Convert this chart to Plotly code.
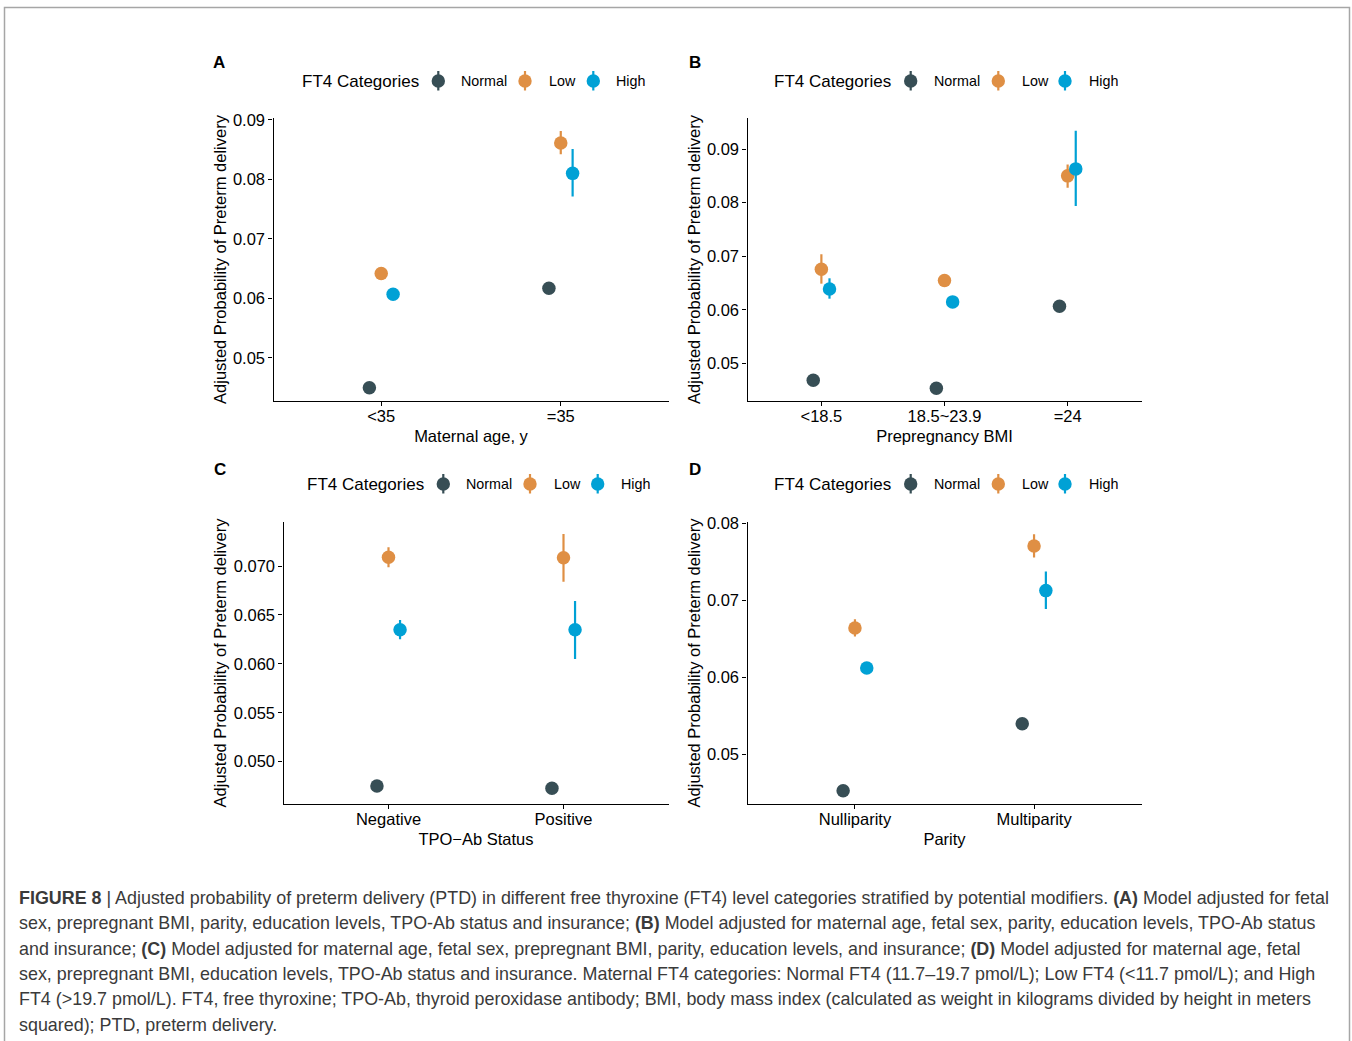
import plotly.graph_objects as go

W, H = 1352, 1041

# ---------------- data ----------------
groups = ["Normal", "Low", "High"]
group_colors = ["#374E55", "#DF8F44", "#00A1D5"]
dodge = [-0.066, 0.0, 0.066]

# Panel A: maternal age
a_categories = ["<35", "=35"]
a_normal = [0.0450, 0.0617]
a_normal_lo = [0.0445, 0.0610]
a_normal_hi = [0.0455, 0.0624]
a_low = [0.0642, 0.0861]
a_low_lo = [0.0636, 0.0842]
a_low_hi = [0.0648, 0.0881]
a_high = [0.0607, 0.0810]
a_high_lo = [0.0601, 0.0771]
a_high_hi = [0.0613, 0.0851]

# Panel B: prepregnancy BMI
b_categories = ["<18.5", "18.5~23.9", "=24"]
b_normal = [0.0469, 0.0454, 0.0607]
b_normal_lo = [0.0463, 0.0449, 0.0599]
b_normal_hi = [0.0475, 0.0459, 0.0615]
b_low = [0.0676, 0.0655, 0.0850]
b_low_lo = [0.0649, 0.0646, 0.0828]
b_low_hi = [0.0704, 0.0664, 0.0871]
b_high = [0.0639, 0.0615, 0.0863]
b_high_lo = [0.0621, 0.0608, 0.0794]
b_high_hi = [0.0659, 0.0622, 0.0934]

# Panel C: TPO-Ab status
c_categories = ["Negative", "Positive"]
c_normal = [0.04752, 0.04728]
c_normal_lo = [0.04720, 0.04680]
c_normal_hi = [0.04785, 0.04775]
c_low = [0.07089, 0.07085]
c_low_lo = [0.06987, 0.06840]
c_low_hi = [0.07191, 0.07327]
c_high = [0.06349, 0.06349]
c_high_lo = [0.06251, 0.06049]
c_high_hi = [0.06448, 0.06642]

# Panel D: parity
d_categories = ["Nulliparity", "Multiparity"]
d_normal = [0.04523, 0.05394]
d_normal_lo = [0.04480, 0.05330]
d_normal_hi = [0.04570, 0.05460]
d_low = [0.06639, 0.07705]
d_low_lo = [0.06526, 0.07553]
d_low_hi = [0.06752, 0.07857]
d_high = [0.06118, 0.07124]
d_high_lo = [0.06085, 0.06886]
d_high_hi = [0.06151, 0.07371]

caption_lines = [
    "<b>FIGURE 8</b> | Adjusted probability of preterm delivery (PTD) in different free thyroxine (FT4) level categories stratified by potential modifiers. <b>(A)</b> Model adjusted for fetal",
    "sex, prepregnant BMI, parity, education levels, TPO-Ab status and insurance; <b>(B)</b> Model adjusted for maternal age, fetal sex, parity, education levels, TPO-Ab status",
    "and insurance; <b>(C)</b> Model adjusted for maternal age, fetal sex, prepregnant BMI, parity, education levels, and insurance; <b>(D)</b> Model adjusted for maternal age, fetal",
    "sex, prepregnant BMI, education levels, TPO-Ab status and insurance. Maternal FT4 categories: Normal FT4 (11.7–19.7 pmol/L); Low FT4 (&lt;11.7 pmol/L); and High",
    "FT4 (&gt;19.7 pmol/L). FT4, free thyroxine; TPO-Ab, thyroid peroxidase antibody; BMI, body mass index (calculated as weight in kilograms divided by height in meters",
    "squared); PTD, preterm delivery.",
]

# ---------------- layout helpers ----------------
def px(x):
    return x / W

def py(y):
    return 1 - y / H

FONT = "Liberation Sans, Arial, sans-serif"

panels = [
    dict(letter="A", cats=a_categories, title="Maternal age, y",
         series=[(a_normal, a_normal_lo, a_normal_hi), (a_low, a_low_lo, a_low_hi), (a_high, a_high_lo, a_high_hi)],
         xdom=(273.5, 668.5), ydom=(118, 401), yrange=[0.04277, 0.0903],
         ytick=[0.05, 0.06, 0.07, 0.08, 0.09], yfmt=".2f",
         letter_pos=(219, 63),
         legend=dict(y=81, title_x=300, glyph=[438.3, 525, 593.3], label=[459, 546.7, 614.3])),
    dict(letter="B", cats=b_categories, title="Prepregnancy BMI",
         series=[(b_normal, b_normal_lo, b_normal_hi), (b_low, b_low_lo, b_low_hi), (b_high, b_high_lo, b_high_hi)],
         xdom=(747.5, 1141.5), ydom=(118, 401), yrange=[0.04302, 0.09579],
         ytick=[0.05, 0.06, 0.07, 0.08, 0.09], yfmt=".2f",
         letter_pos=(695, 63),
         legend=dict(y=81, title_x=772.3, glyph=[910.7, 998.3, 1065], label=[932.3, 1020, 1086.7])),
    dict(letter="C", cats=c_categories, title="TPO−Ab Status",
         series=[(c_normal, c_normal_lo, c_normal_hi), (c_low, c_low_lo, c_low_hi), (c_high, c_high_lo, c_high_hi)],
         xdom=(283.5, 668.5), ydom=(521.7, 804.3), yrange=[0.045645, 0.07453],
         ytick=[0.050, 0.055, 0.060, 0.065, 0.070], yfmt=".3f",
         letter_pos=(220, 469),
         legend=dict(y=484, title_x=305, glyph=[443.3, 530, 597.7], label=[464.3, 551.7, 619])),
    dict(letter="D", cats=d_categories, title="Parity",
         series=[(d_normal, d_normal_lo, d_normal_hi), (d_low, d_low_lo, d_low_hi), (d_high, d_high_lo, d_high_hi)],
         xdom=(747.5, 1141.5), ydom=(521.7, 804.3), yrange=[0.04346, 0.0802],
         ytick=[0.05, 0.06, 0.07, 0.08], yfmt=".2f",
         letter_pos=(695, 469),
         legend=dict(y=484, title_x=772.3, glyph=[910.7, 998.3, 1065], label=[932.3, 1020, 1086.7])),
]

fig = go.Figure()
shapes = []
annotations = []

for i, p in enumerate(panels):
    sfx = "" if i == 0 else str(i + 1)
    xref, yref = "x" + sfx, "y" + sfx
    ncat = len(p["cats"])
    for g, (vals, lo, hi) in enumerate(p["series"]):
        xs = [k + 1 + dodge[g] for k in range(ncat)]
        fig.add_trace(go.Scatter(
            x=xs, y=vals, xaxis=xref, yaxis=yref, mode="markers",
            name=groups[g], showlegend=False,
            marker=dict(color=group_colors[g], size=13.5, line=dict(width=0)),
            error_y=dict(type="data", symmetric=False,
                         array=[h - v for h, v in zip(hi, vals)],
                         arrayminus=[v - l for v, l in zip(vals, lo)],
                         color=group_colors[g], thickness=2.2, width=0),
        ))
    axis_common = dict(showline=True, linecolor="black", linewidth=1.3,
                       ticks="outside", ticklen=4, tickwidth=1.2, tickcolor="black",
                       showgrid=False, zeroline=False, automargin=False,
                       tickfont=dict(family=FONT, size=16.5, color="black"))
    fig.update_layout(**{
        ("xaxis" + sfx): dict(
            domain=[px(p["xdom"][0]), px(p["xdom"][1])],
            anchor=yref, range=[0.4, ncat + 0.6],
            tickmode="array", tickvals=list(range(1, ncat + 1)), ticktext=p["cats"],
            ticklabelstandoff=-4,
            title=dict(text=p["title"], font=dict(family=FONT, size=16.5, color="black"), standoff=6),
            **axis_common),
        ("yaxis" + sfx): dict(
            domain=[py(p["ydom"][1]), py(p["ydom"][0])],
            anchor=xref, range=p["yrange"],
            tickmode="array", tickvals=p["ytick"], tickformat=p["yfmt"],
            title=dict(text="Adjusted Probability of Preterm delivery",
                       font=dict(family=FONT, size=16.5, color="black"), standoff=2),
            **axis_common),
    })
    # panel letter
    lx, ly = p["letter_pos"]
    annotations.append(dict(text="<b>" + p["letter"] + "</b>", x=px(lx), y=py(ly),
                            xref="paper", yref="paper", showarrow=False,
                            xanchor="center", yanchor="middle",
                            font=dict(family=FONT, size=17, color="black")))
    # legend
    lg = p["legend"]
    annotations.append(dict(text="FT4 Categories", x=px(lg["title_x"]), y=py(lg["y"]),
                            xref="paper", yref="paper", showarrow=False,
                            xanchor="left", yanchor="middle",
                            font=dict(family=FONT, size=17, color="black")))
    for g in range(3):
        cx = lg["glyph"][g]
        cy = lg["y"]
        shapes.append(dict(type="line", xref="paper", yref="paper",
                           x0=px(cx), x1=px(cx), y0=py(cy - 10), y1=py(cy + 9.5),
                           line=dict(color=group_colors[g], width=2.2)))
        shapes.append(dict(type="circle", xref="paper", yref="paper",
                           x0=px(cx - 6.7), x1=px(cx + 6.7), y0=py(cy + 6.7), y1=py(cy - 6.7),
                           fillcolor=group_colors[g], line=dict(width=0)))
        annotations.append(dict(text=groups[g], x=px(lg["label"][g]), y=py(cy),
                                xref="paper", yref="paper", showarrow=False,
                                xanchor="left", yanchor="middle",
                                font=dict(family=FONT, size=14.3, color="black")))

# caption
for k, line in enumerate(caption_lines):
    annotations.append(dict(text=line, x=px(17), y=py(898 + k * 25.3),
                            xref="paper", yref="paper", showarrow=False,
                            xanchor="left", yanchor="middle",
                            font=dict(family=FONT, size=17.9, color="#3a3a3a")))

# outer frame
shapes.append(dict(type="rect", xref="paper", yref="paper",
                   x0=px(4.5), x1=px(1349.5), y0=py(1060), y1=py(7.5),
                   line=dict(color="#a6a6a6", width=1.5), fillcolor="rgba(0,0,0,0)"))

fig.update_layout(width=W, height=H, margin=dict(l=0, r=0, t=0, b=0, autoexpand=False),
                  paper_bgcolor="white", plot_bgcolor="white",
                  shapes=shapes, annotations=annotations,
                  font=dict(family=FONT, color="black"))

fig.write_html("out.html", config={"displayModeBar": False},
               post_script="document.body.style.margin='0';document.body.style.overflow='hidden';")
